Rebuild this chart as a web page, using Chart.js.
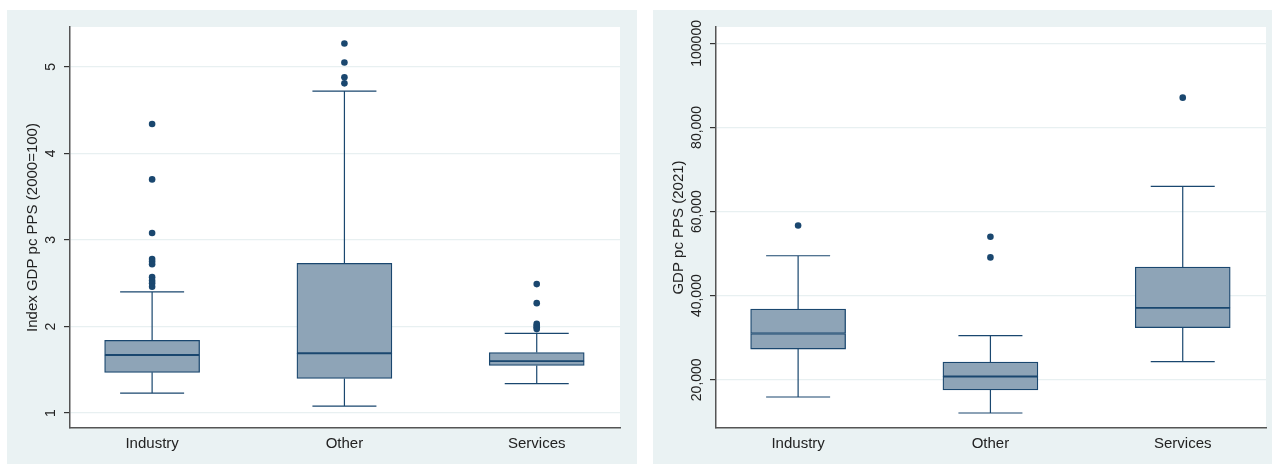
<!DOCTYPE html>
<html>
<head>
<meta charset="utf-8">
<script src="https://cdn.jsdelivr.net/npm/chart.js@4.4.1/dist/chart.umd.min.js"></script>
<style>
    html, body { margin: 0; padding: 0; background: #fff; }
    body { width: 1272px; height: 464px; position: relative; overflow: hidden; }
    .panel { position: absolute; top: 10px; height: 454px; background: #eaf2f3; }
    #leftPanel { left: 7px; width: 630px; }
    #rightPanel { left: 653px; width: 619px; }
</style>
</head>
<body>
<div class="panel" id="leftPanel"><canvas id="indexChart"></canvas></div>
<div class="panel" id="rightPanel"><canvas id="gdpChart"></canvas></div>
<script>
// Categories shared by both panels
const categories = ['Industry', 'Other', 'Services'];

// Left panel: Index GDP pc PPS (2000=100)
const indexLowerWhisker = [1.23, 1.08, 1.34];
const indexQ1 = [1.47, 1.40, 1.55];
const indexMedian = [1.67, 1.69, 1.60];
const indexQ3 = [1.84, 2.73, 1.70];
const indexUpperWhisker = [2.40, 4.72, 1.92];
const indexOutliers = [
    [4.34, 3.70, 3.08, 2.78, 2.75, 2.72, 2.57, 2.53, 2.50, 2.46],
    [5.27, 5.05, 4.88, 4.81],
    [2.49, 2.27, 2.03, 2.01, 1.99, 1.97]
];
const indexTicks = [1, 2, 3, 4, 5];
const indexTickLabels = ['1', '2', '3', '4', '5'];

// Right panel: GDP pc PPS (2021)
const gdpLowerWhisker = [15900, 12100, 24300];
const gdpQ1 = [27300, 17600, 32400];
const gdpMedian = [31000, 20800, 37100];
const gdpQ3 = [36800, 24200, 46800];
const gdpUpperWhisker = [49500, 30500, 66000];
const gdpOutliers = [[56700], [54000, 49100], [87100]];
const gdpTicks = [20000, 40000, 60000, 80000, 100000];
const gdpTickLabels = ['20,000', '40,000', '60,000', '80,000', '100000'];

// Styles
const NAVY = '#1a476f';
const BOX_FILL = '#8ea4b7';
const TEXT = '#222';
const FONT = '"Liberation Sans", Arial, sans-serif';
const CAP_HALF = 32;

Chart.defaults.font.family = FONT;

function makePanel(canvasId, s) {
    const boxPlot = {
        id: 'boxPlot',
        beforeDraw(chart) {
            const { ctx, chartArea: a } = chart;
            ctx.save();
            ctx.fillStyle = '#fff';
            ctx.fillRect(a.left, a.top, a.right - a.left, a.bottom - a.top);
            ctx.restore();
        },
        beforeDatasetsDraw(chart) {
            const { ctx, scales: { x, y } } = chart;
            ctx.save();
            ctx.strokeStyle = NAVY;
            ctx.lineWidth = 1.2;
            categories.forEach((c, i) => {
                const px = x.getPixelForValue(i + 1);
                [[s.q3[i], s.hi[i]], [s.q1[i], s.lo[i]]].forEach(([from, to]) => {
                    const y0 = y.getPixelForValue(from);
                    const y1 = y.getPixelForValue(to);
                    ctx.beginPath();
                    ctx.moveTo(px, y0);
                    ctx.lineTo(px, y1);
                    ctx.moveTo(px - CAP_HALF, y1);
                    ctx.lineTo(px + CAP_HALF, y1);
                    ctx.stroke();
                });
            });
            ctx.restore();
        },
        afterDraw(chart) {
            // rotated y tick labels
            const { ctx, chartArea: a, scales: { y } } = chart;
            ctx.save();
            ctx.font = '14px ' + FONT;
            ctx.fillStyle = TEXT;
            ctx.textAlign = 'center';
            ctx.textBaseline = 'middle';
            s.ticks.forEach((v, i) => {
                ctx.save();
                ctx.translate(a.left - 19, y.getPixelForValue(v));
                ctx.rotate(-Math.PI / 2);
                ctx.fillText(s.tickLabels[i], 0, 0);
                ctx.restore();
            });
            ctx.restore();
        }
    };

    const barStyle = {
        backgroundColor: BOX_FILL,
        borderColor: NAVY,
        borderWidth: 1.3,
        borderSkipped: false,
        barThickness: 95,
        grouped: false
    };

    const outlierPoints = [];
    s.outliers.forEach((list, i) => list.forEach(v => outlierPoints.push({ x: i + 1, y: v })));

    return new Chart(document.getElementById(canvasId), {
        type: 'bar',
        data: {
            datasets: [
                { ...barStyle, data: categories.map((c, i) => ({ x: i + 1, y: [s.q1[i], s.med[i]] })) },
                { ...barStyle, data: categories.map((c, i) => ({ x: i + 1, y: [s.med[i], s.q3[i]] })) },
                {
                    type: 'scatter',
                    data: outlierPoints,
                    pointRadius: 3.3,
                    pointBackgroundColor: NAVY,
                    pointBorderWidth: 0
                }
            ]
        },
        options: {
            responsive: true,
            maintainAspectRatio: false,
            animation: false,
            layout: { padding: { left: 0, top: 17, right: s.padRight, bottom: 0 } },
            plugins: { legend: { display: false }, tooltip: { enabled: false } },
            scales: {
                x: {
                    type: 'linear',
                    offset: false,
                    min: 0.573,
                    max: 3.433,
                    afterBuildTicks: sc => { sc.ticks = categories.map((c, i) => ({ value: i + 1 })); },
                    afterFit: sc => { sc.height = 36; },
                    ticks: {
                        callback: (v, i) => categories[i],
                        autoSkip: false,
                        maxRotation: 0,
                        padding: 7,
                        color: TEXT,
                        font: { size: 15 }
                    },
                    grid: { display: false, drawTicks: false, offset: false },
                    border: { color: '#555', width: 1.5 }
                },
                y: {
                    min: s.min,
                    max: s.max,
                    afterBuildTicks: sc => { sc.ticks = s.ticks.map(v => ({ value: v })); },
                    afterFit: sc => { sc.width = 63; },
                    ticks: { display: false },
                    grid: { color: '#e8f0f1', lineWidth: 1.2, tickColor: '#333', tickLength: 6 },
                    border: { color: '#555', width: 1.5 },
                    title: {
                        display: true,
                        text: s.title,
                        color: TEXT,
                        font: { size: 15 },
                        padding: { top: 16.5, bottom: 0 }
                    }
                }
            }
        },
        plugins: [boxPlot]
    });
}

makePanel('indexChart', {
    lo: indexLowerWhisker, q1: indexQ1, med: indexMedian, q3: indexQ3, hi: indexUpperWhisker,
    outliers: indexOutliers, ticks: indexTicks, tickLabels: indexTickLabels,
    min: 0.827, max: 5.461, title: 'Index GDP pc PPS (2000=100)', padRight: 17
});

makePanel('gdpChart', {
    lo: gdpLowerWhisker, q1: gdpQ1, med: gdpMedian, q3: gdpQ3, hi: gdpUpperWhisker,
    outliers: gdpOutliers, ticks: gdpTicks, tickLabels: gdpTickLabels,
    min: 8530, max: 103900, title: 'GDP pc PPS (2021)', padRight: 6
});
</script>
</body>
</html>
